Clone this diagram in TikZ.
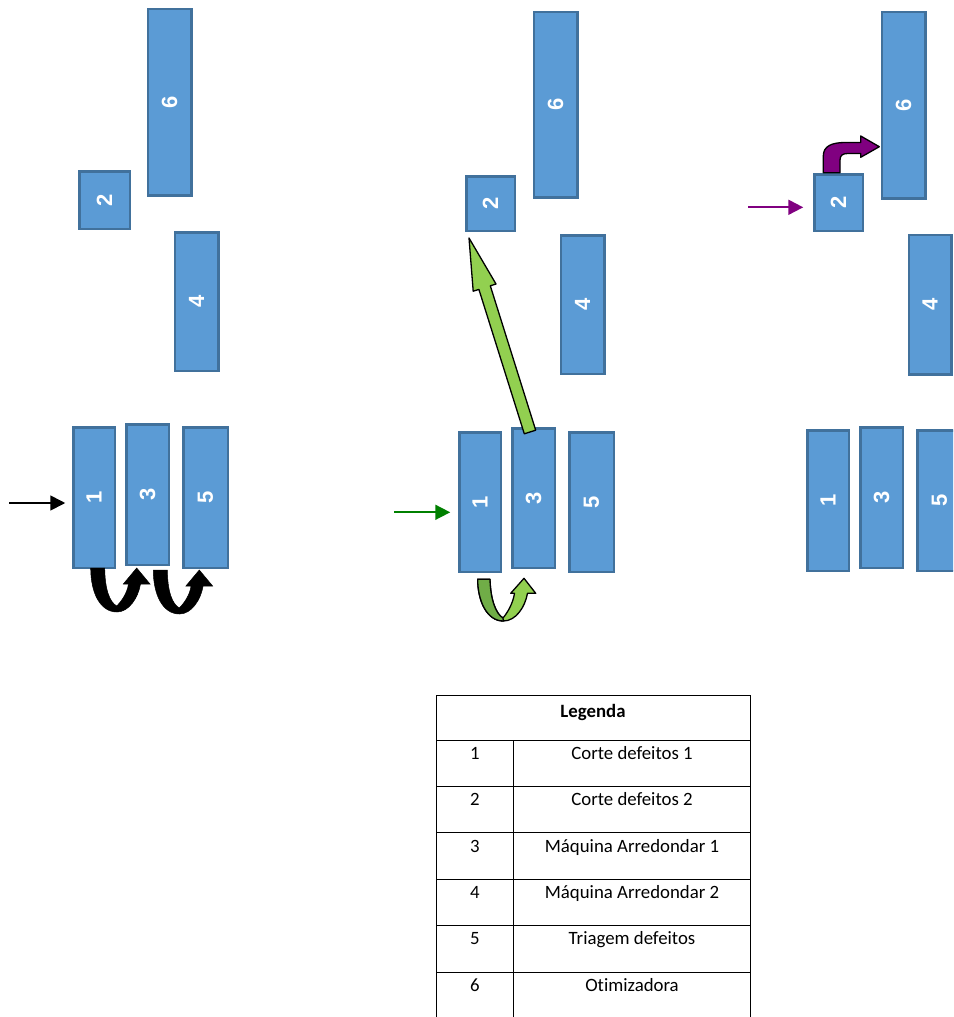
\documentclass[tikz,border=0pt]{standalone}
\usepackage{fontspec}
\setmainfont{Carlito}[Ligatures=NoCommon]
\newfontfamily\digitfont{Liberation Sans}
\usetikzlibrary{arrows.meta,calc}
\definecolor{boxfill}{HTML}{5B9BD5}
\definecolor{boxline}{HTML}{41719C}
\definecolor{lgreen}{HTML}{92D050}
\definecolor{dgreen}{HTML}{70AD47}
\definecolor{fgreen}{RGB}{0,128,0}
\definecolor{fpurple}{RGB}{128,0,128}
\tikzset{
 machine/.style={draw=boxline, fill=boxfill, line width=2.5pt, inner sep=0pt, outer sep=0pt},
 digit/.style={text=white, font=\digitfont\bfseries\fontsize{22}{22}\selectfont, rotate=90, inner sep=0pt},
 flowarrow/.style={line width=1.7pt, -{Triangle[length=15pt,width=15pt]}},
 shapearrow/.style={draw=black, line width=1.3pt, line join=round},
 cell/.style={font=\fontsize{18.8}{22}\selectfont, inner sep=0pt, anchor=base},
 tableline/.style={line width=1pt, black},
 uturn/.pic={
  \path[pic actions] (0,0) -- (14,0) .. controls (14.3,22) and (19,34) .. (26,38)
   .. controls (31,33) and (36.5,25) .. (37.8,16) -- (32.6,16) -- (46,0) -- (59.3,16) -- (49.8,16)
   .. controls (47.5,30) and (38,44) .. (26.3,44) .. controls (9,44) and (0,24) .. (0,0) -- cycle;
 },
}
\newcommand\machinebox[6]{%
 \node[machine, minimum width={#4-#2-2.5}, minimum height={#5-#3-2.5}] (#1) at ({(#2+#4)/2},{(#3+#5)/2}) {};
 \node[digit] (#1t) at (#1.center) {#6};}
\begin{document}
\begin{tikzpicture}[x=1pt,y=-1pt]
\clip (0,0) rectangle (953,1017);
\fill[white] (0,0) rectangle (953,1017);
% ---------- panel 1 ----------
\machinebox{sixA}{146.5}{7.5}{192.5}{196.5}{6}
\machinebox{twoA}{78}{170}{131}{230}{2}
\machinebox{fourA}{173.5}{231}{219.5}{372}{4}
\machinebox{oneA}{72}{426}{116}{569}{1}
\machinebox{threeA}{125}{423}{170}{566}{3}
\machinebox{fiveA}{182}{426}{229}{569}{5}
\coordinate (inA) at (9,503);
\draw[flowarrow, black, shorten >=8pt] (inA) -- (inA -| oneA.west);
\pic[fill=black, draw=black, line width=0.5pt] (uA1) at (90.7,568) {uturn};
\pic[fill=black, draw=black, line width=0.5pt] (uA2) at (153.3,570) {uturn};
% ---------- panel 2 ----------
\machinebox{sixB}{532.5}{10.5}{578.5}{198.5}{6}
\machinebox{twoB}{465}{175}{516}{232}{2}
\machinebox{fourB}{559.5}{234}{605.5}{375}{4}
\machinebox{oneB}{458}{431}{502}{573}{1}
\machinebox{threeB}{511}{427}{556}{569}{3}
\machinebox{fiveB}{568}{431}{615}{573}{5}
\coordinate (inB) at (394,512.3);
\draw[flowarrow, fgreen, shorten >=9pt] (inB) -- (inB -| oneB.west);
\path[shapearrow, fill=lgreen] (477.7,579.3) -- (490,579.3) .. controls (490.5,600) and (496,614) .. (503,618)
  .. controls (508,612) and (513,603) .. (514.5,593.3) -- (510.7,593.3) -- (524,578.3) -- (535.7,593.3) -- (527.5,593.3)
  .. controls (525,607) and (516,621) .. (503.3,621) .. controls (487,621) and (477.7,601) .. (477.7,579.3) -- cycle;
\path[shapearrow, fill=dgreen] (477.7,579.3) -- (490,579.3) .. controls (490.5,600) and (496,614) .. (503,618)
  -- (503.3,621) .. controls (487,621) and (477.7,601) .. (477.7,579.3) -- cycle;
\path[shapearrow, fill=lgreen] (524.3,433.8) -- (535.7,430.2) -- (490.3,285.8) -- (496,284) -- (469,238)
  -- (473.2,291.2) -- (478.9,289.4) -- cycle;
% ---------- panel 3 ----------
\machinebox{sixC}{880.5}{10.5}{926.5}{199.5}{6}
\machinebox{twoC}{813}{173}{864}{232}{2}
\machinebox{fourC}{907.5}{233.5}{952.5}{375.5}{4}
\machinebox{oneC}{806}{429}{850}{572}{1}
\machinebox{threeC}{859}{426}{904}{569}{3}
\machinebox{fiveC}{916}{429}{963}{572}{5}
\coordinate (inC) at (748,207.3);
\draw[flowarrow, fpurple, line width=2pt, shorten >=11pt] (inC) -- (inC -| twoC.west);
\path[shapearrow, fill=fpurple] (823.3,172.7) -- (823.3,156) .. controls (823.3,146) and (832,142.5) .. (845,142.5)
  -- (860.7,142.5) -- (860.7,136) -- (879.3,146.7) -- (860.7,157.3) -- (860.7,153.5) -- (848,153.5)
  .. controls (843,153.5) and (840,155) .. (840,160) -- (840,172.7) -- cycle;
% ---------- legend table ----------
\draw[tableline] (436,1017) -- (436,695) -- (750,695) -- (750,1017);
\draw[tableline] (513,740) -- (513,1017);
\foreach \yy in {740,786,832.7,879.3,925.3,972} {\draw[tableline] (436,\yy) -- (750,\yy);}
\node[cell, font=\fontsize{18.8}{22}\selectfont\bfseries] (leg) at (593,717.3) {Legenda};
\node[cell] (n1) at (475,759.5) {1};
\node[cell] (d1) at (632,759.5) {Corte defeitos 1};
\node[cell] (n2) at (475,805.5) {2};
\node[cell] (d2) at (632,805.5) {Corte defeitos 2};
\node[cell] (n3) at (475,852.2) {3};
\node[cell] (d3) at (632,852.2) {Máquina Arredondar 1};
\node[cell] (n4) at (475,898.8) {4};
\node[cell] (d4) at (632,898.8) {Máquina Arredondar 2};
\node[cell] (n5) at (475,944.8) {5};
\node[cell] (d5) at (632,944.8) {Triagem defeitos};
\node[cell] (n6) at (475,991.5) {6};
\node[cell] (d6) at (632,991.5) {Otimizadora};
\end{tikzpicture}
\end{document}
